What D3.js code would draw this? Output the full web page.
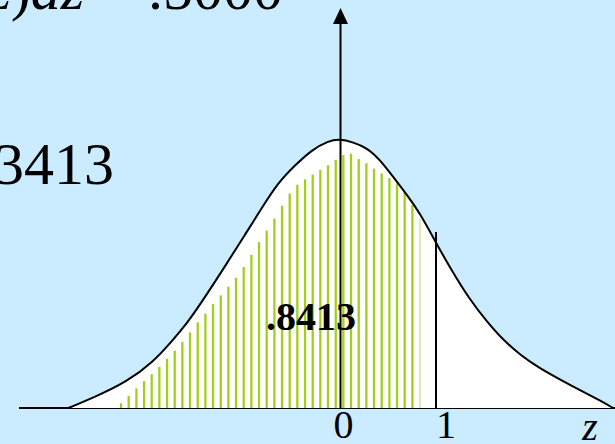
<!DOCTYPE html>
<html>
<head>
<meta charset="utf-8">
<script src="https://cdn.jsdelivr.net/npm/d3@7"></script>
<style>
  html, body { margin: 0; padding: 0; background: #cbebff; overflow: hidden; }
  svg { display: block; }
  text { font-family: "Liberation Serif", "Times New Roman", serif; fill: #000; }
</style>
</head>
<body>
<svg id="chart" width="615" height="444"></svg>
<script>
// Standard normal curve, sampled as z and density
const curveZ = [-2.850, -2.592, -2.235, -1.963, -1.754, -1.607, -1.471, -1.178, -1.000, -0.822,
                -0.654, -0.476, -0.298, -0.131, -0.005, 0.131, 0.277, 0.414, 0.550, 0.696,
                0.832, 1.000, 1.147, 1.356, 1.534, 1.702, 1.880, 2.058, 2.403, 2.749, 2.853];
const curveDensity = [0.000, 0.015, 0.039, 0.068, 0.101, 0.126, 0.153, 0.217, 0.257, 0.297,
                      0.334, 0.360, 0.383, 0.396, 0.399, 0.394, 0.386, 0.368, 0.343, 0.316,
                      0.289, 0.245, 0.208, 0.160, 0.128, 0.101, 0.079, 0.061, 0.034, 0.009, 0.000];

// Shaded region P(z <= 1): vertical hatch strokes
const hatchZ = [-2.298, -2.218, -2.137, -2.057, -1.977, -1.897, -1.816, -1.736, -1.656, -1.576,
                -1.495, -1.415, -1.335, -1.254, -1.174, -1.094, -1.014, -0.933, -0.853, -0.773,
                -0.692, -0.612, -0.532, -0.452, -0.371, -0.291, -0.211, -0.131, -0.050, 0.030,
                0.110, 0.191, 0.271, 0.351, 0.431, 0.512, 0.592, 0.672, 0.753, 0.833];
const hatchHeight = [0.007, 0.018, 0.029, 0.040, 0.050, 0.061, 0.073, 0.085, 0.098, 0.112,
                     0.127, 0.140, 0.154, 0.167, 0.180, 0.193, 0.209, 0.227, 0.246, 0.263,
                     0.281, 0.300, 0.318, 0.331, 0.339, 0.346, 0.353, 0.360, 0.368, 0.375,
                     0.377, 0.369, 0.363, 0.355, 0.348, 0.341, 0.333, 0.321, 0.301, 0.281];

// Cut-off marker at z = 1
const markZ = 1;
const markTop = 0.261;

// Axis ticks and annotations
const tickValues = [0, 1];
const tickLabels = ["0", "1"];
const axisName = "z";
const shadedLabel = ".8413";
const halfLabel = ".3413";
const integralLabel = ["∫ ", "f", "(", "z", ")", "dz", " = .5000"];

const width = 615, height = 444;
const svg = d3.select("#chart");

const x = d3.scaleLinear().domain([-3, 3]).range([54, 627]);
const y = d3.scaleLinear().domain([0, 0.4]).range([408, 138.24]);

svg.append("rect").attr("width", width).attr("height", height).attr("fill", "#cbebff");

const pts = curveZ.map((z, i) => [z, curveDensity[i]]);

// horizontal axis
svg.append("line")
  .attr("x1", x(-3.366)).attr("x2", 615)
  .attr("y1", y(0)).attr("y2", y(0))
  .attr("stroke", "#000").attr("stroke-width", 2);
svg.append("path")
  .attr("d", `M${x(3.2)},${y(0) - 7}L${x(3.35)},${y(0)}L${x(3.2)},${y(0) + 7}Z`)
  .attr("fill", "#000");

// area under the curve
const area = d3.area()
  .x(d => x(d[0])).y0(y(0)).y1(d => y(d[1]))
  .curve(d3.curveBasis);
svg.append("path").datum(pts).attr("d", area).attr("fill", "#fff");

// hatch strokes
const last = hatchZ.length - 1;
svg.append("g").selectAll("line")
  .data(hatchZ.map((z, i) => ({ z, h: hatchHeight[i], i })))
  .join("line")
  .attr("x1", d => x(d.z)).attr("x2", d => x(d.z))
  .attr("y1", y(0)).attr("y2", d => y(d.h))
  .attr("stroke", d => d.i === last ? "#dfeab4" : "#a2cf1e")
  .attr("stroke-width", 2.3);

// curve outline
const line = d3.line()
  .x(d => x(d[0])).y(d => y(d[1]))
  .curve(d3.curveBasis);
svg.append("path").datum(pts).attr("d", line)
  .attr("fill", "none").attr("stroke", "#000").attr("stroke-width", 2);

// z = 1 marker
svg.append("line")
  .attr("x1", x(markZ)).attr("x2", x(markZ))
  .attr("y1", y(0)).attr("y2", y(markTop))
  .attr("stroke", "#000").attr("stroke-width", 2);

// vertical axis with arrow
svg.append("line")
  .attr("x1", x(0)).attr("x2", x(0))
  .attr("y1", y(0)).attr("y2", 22)
  .attr("stroke", "#000").attr("stroke-width", 2);
svg.append("path")
  .attr("d", `M${x(0) - 7.5},24L${x(0)},8L${x(0) + 7.5},24Z`)
  .attr("fill", "#000");

// tick labels
svg.append("g").selectAll("text")
  .data(tickValues)
  .join("text")
  .attr("x", v => x(v) + (v === 0 ? 3 : 10))
  .attr("y", 438)
  .attr("text-anchor", "middle")
  .attr("font-size", 40)
  .text((v, i) => tickLabels[i]);

svg.append("text")
  .attr("x", 590).attr("y", 440)
  .attr("text-anchor", "middle")
  .attr("font-size", 40)
  .attr("font-style", "italic")
  .text(axisName);

// area value
svg.append("text")
  .attr("x", 311).attr("y", 330)
  .attr("text-anchor", "middle")
  .attr("font-size", 40)
  .attr("font-weight", "bold")
  .text(shadedLabel);

// side annotations
svg.append("text")
  .attr("x", 114).attr("y", 184)
  .attr("text-anchor", "end")
  .attr("font-size", 60)
  .text(halfLabel);

const integ = svg.append("text")
  .attr("x", 283).attr("y", 9)
  .attr("text-anchor", "end")
  .attr("font-size", 60);
integralLabel.forEach(s => {
  integ.append("tspan")
    .attr("font-style", (s === "f" || s === "z" || s === "dz") ? "italic" : "normal")
    .text(s);
});
</script>
</body>
</html>
